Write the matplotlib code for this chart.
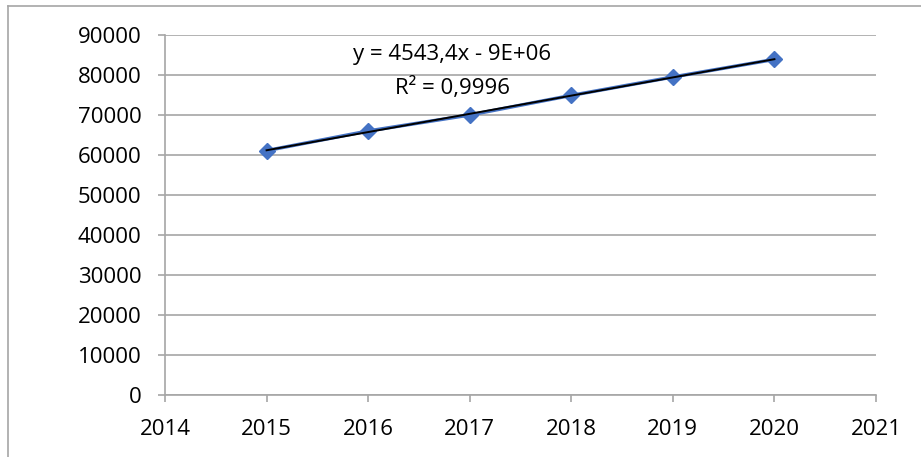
import matplotlib
matplotlib.use("Agg")
import matplotlib.pyplot as plt
import numpy as np
from matplotlib.lines import Line2D

years = [2015, 2016, 2017, 2018, 2019, 2020]
values = [61100, 66000, 70000, 74900, 79500, 83900]
eq_text = "y = 4543,4x - 9E+06"
r2_text = "R² = 0,9996"
xticks = [2014, 2015, 2016, 2017, 2018, 2019, 2020, 2021]
yticks = [0, 10000, 20000, 30000, 40000, 50000, 60000, 70000, 80000, 90000]

plt.rcParams['font.family'] = ['Open Sans', 'DejaVu Sans']

W, H = 921, 457
fig = plt.figure(figsize=(W / 100, H / 100), dpi=100)
# outer chart border (top and left visible)
fig.lines.append(Line2D([7.5 / W, 1.0], [1 - 5.5 / H, 1 - 5.5 / H], transform=fig.transFigure,
                        color='#a6a6a6', linewidth=1.2))
fig.lines.append(Line2D([7.5 / W, 7.5 / W], [0, 1 - 5.5 / H], transform=fig.transFigure,
                        color='#a6a6a6', linewidth=1.2))

left, right, top, bottom = 165, 876, 35, 395
ax = fig.add_axes([left / W, 1 - bottom / H, (right - left) / W, (bottom - top) / H])

ax.plot(years, values, color='#4472C4', linewidth=2.5, marker='D', markersize=8,
        markerfacecolor='#4472C4', markeredgecolor='#4472C4', zorder=3)
coef = np.polyfit(years, values, 1)
xs = np.array([years[0], years[-1]])
ax.plot(xs, np.polyval(coef, xs), color='black', linewidth=1.4, zorder=4)

ax.text(2016.83, 83750, eq_text, ha='center', va='baseline', fontsize=16, color='black')
ax.text(2016.83, 75250, r2_text, ha='center', va='baseline', fontsize=16, color='black')

ax.set_xlim(2014, 2021)
ax.set_ylim(0, 90000)
ax.set_xticks(xticks)
ax.set_yticks(yticks)
ax.set_xticklabels([str(t) for t in xticks])
ax.set_yticklabels([str(t) for t in yticks])
ax.grid(axis='y', color='#a6a6a6', linewidth=1.2)
ax.set_axisbelow(True)
for s in ['top', 'right']:
    ax.spines[s].set_visible(False)
for s in ['left', 'bottom']:
    ax.spines[s].set_color('#a6a6a6')
    ax.spines[s].set_linewidth(1.2)
ax.tick_params(axis='both', colors='#a6a6a6', labelcolor='black', labelsize=16, length=5, width=1.2)
ax.tick_params(axis='x', pad=12)
ax.tick_params(axis='y', pad=12)

fig.savefig('out.png', dpi=100)
